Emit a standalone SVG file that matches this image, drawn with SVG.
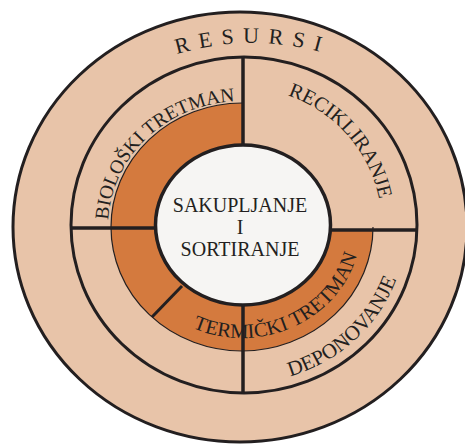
<svg xmlns="http://www.w3.org/2000/svg" width="465" height="444" viewBox="0 0 465 444">
<style>
.ln{stroke:#231F20;fill:none;stroke-linecap:butt}
.t{font-family:"Liberation Serif","Times New Roman",serif;fill:#231F20}
</style>
<defs>
<path id="pRes" d="M -7.5 303 A 260 260 0 0 1 512.5 303"/>
<path id="pBio" d="M 108 227 A 134 126 0 0 1 242 101"/>
<path id="pRec" d="M 243 88 A 139 139 0 0 1 382 227"/>
<path id="pTer" d="M 123 226 A 119 112 0 0 0 361 226"/>
<path id="pDep" d="M 243 383 A 163 157 0 0 0 406 226"/>
</defs>
<rect width="465" height="444" fill="#FFFFFF"/>
<g id="resursi">
<ellipse cx="240" cy="227" rx="227" ry="215" fill="#E8C4A9" stroke="#231F20" stroke-width="3"/>
<text class="t" font-size="22" letter-spacing="9"><textPath href="#pRes" startOffset="50%" text-anchor="middle">RESURSI</textPath></text>
</g>
<g id="ring">
<ellipse cx="244" cy="225" rx="173" ry="168" fill="#E8C4A9" stroke="#231F20" stroke-width="3"/>
</g>
<g id="tretman">
<path d="M 243 229 L 243 103 L 242 103 A 131 124 0 1 0 373 227 L 373 231 L 243 231 Z" fill="#D47A3E"/>
<path class="ln" stroke-width="1.2" d="M 242 103 A 131 124 0 1 0 373 227"/>
</g>
<g id="sakupljanje">
<ellipse cx="243" cy="225" rx="87.5" ry="80" fill="#F6F5F3" stroke="#231F20" stroke-width="3.5"/>
<text class="t" font-size="20" text-anchor="middle"><tspan x="240" y="212">SAKUPLJANJE</tspan><tspan x="240" y="233.5">I</tspan><tspan x="240" y="256">SORTIRANJE</tspan></text>
</g>
<g id="connectors">
<path class="ln" stroke-width="3.5" d="M 243 56 V 146"/>
<path class="ln" stroke-width="3.5" d="M 243 304 V 394"/>
<path class="ln" stroke-width="3.5" d="M 70 228 H 157"/>
<path class="ln" stroke-width="3.5" d="M 329 230 H 418"/>
<path class="ln" stroke-width="3" d="M 182 286 L 152 317"/>
</g>
<g id="biolo">
<text class="t" font-size="19.5"><textPath href="#pBio" startOffset="50%" text-anchor="middle">BIOLOŠKI TRETMAN</textPath></text>
</g>
<g id="recikliranje">
<text class="t" font-size="20.5"><textPath href="#pRec" startOffset="54%" text-anchor="middle">RECIKLIRANJE</textPath></text>
</g>
<g id="termicki">
<text class="t" font-size="20.5"><textPath href="#pTer" startOffset="64%" text-anchor="middle">TERMIČKI TRETMAN</textPath></text>
</g>
<g id="deponovanje">
<text class="t" font-size="21"><textPath href="#pDep" startOffset="48.7%" text-anchor="middle">DEPONOVANJE</textPath></text>
</g>
</svg>
